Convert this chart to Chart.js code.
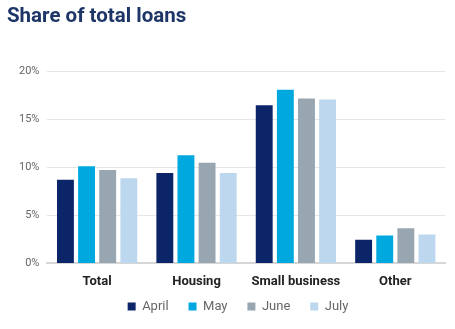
<!DOCTYPE html>
<html>
<head>
<meta charset="utf-8">
<script src="https://cdn.jsdelivr.net/npm/chart.js@4/dist/chart.umd.min.js"></script>
<style>
  html, body { margin: 0; padding: 0; background: #fff; }
  #wrap { position: relative; width: 455px; height: 329px; }
  #title {
    position: absolute; left: 7px; top: 3px;
    font: bold 20.5px Roboto, sans-serif; line-height: 24px;
    color: #1d3667; white-space: nowrap;
  }
</style>
</head>
<body>
<div id="wrap">
  <canvas id="chart" width="455" height="329"></canvas>
  <div id="title">Share of total loans</div>
</div>
<script>
const categories = ["Total", "Housing", "Small business", "Other"];
const months = ["April", "May", "June", "July"];
const april = [8.7, 9.4, 16.45, 2.45];
const may = [10.1, 11.25, 18.05, 2.9];
const june = [9.7, 10.45, 17.15, 3.65];
const july = [8.85, 9.4, 17.05, 3.0];
const colors = ["#0c2468", "#00a8e0", "#98a6b1", "#bdd7ee"];

const seriesValues = [april, may, june, july];

// legend sits a little right of the canvas centre in the original
const legendShift = {
  id: "legendShift",
  afterLayout(chart) {
    chart.legend.left += 10;
    chart.legend.right += 10;
  },
};

const ctx = document.getElementById("chart").getContext("2d");
new Chart(ctx, {
  type: "bar",
  data: {
    labels: categories,
    datasets: months.map((m, i) => ({
      label: m,
      data: seriesValues[i],
      backgroundColor: colors[i],
      categoryPercentage: 0.85,
      barPercentage: 0.8,
    })),
  },
  plugins: [legendShift],
  options: {
    responsive: false,
    animation: false,
    layout: { padding: { left: 11, right: 10, top: 71, bottom: 6 } },
    plugins: {
      legend: {
        position: "bottom",
        labels: {
          boxWidth: 8,
          boxHeight: 8,
          color: "#666",
          font: { family: "Roboto", size: 13 },
          padding: 7,
          generateLabels: (chart) =>
            Chart.defaults.plugins.legend.labels.generateLabels(chart).map((l, i, arr) => ({
              ...l,
              text: i < arr.length - 1 ? l.text + "    " : l.text,
            })),
        },
      },
      tooltip: { enabled: false },
    },
    scales: {
      y: {
        min: 0,
        max: 20,
        ticks: {
          stepSize: 5,
          color: "#666",
          padding: 8,
          font: { family: "Roboto", size: 11 },
          callback: (v) => v + "%",
        },
        grid: { color: "#e6e6e6", drawTicks: false },
        border: { display: false },
      },
      x: {
        grid: { display: false },
        border: { color: "#d6d6d6", width: 2 },
        ticks: {
          color: "#222",
          padding: 3,
          font: { family: "Roboto", size: 13, weight: "bold" },
        },
      },
    },
  },
});
</script>
</body>
</html>
